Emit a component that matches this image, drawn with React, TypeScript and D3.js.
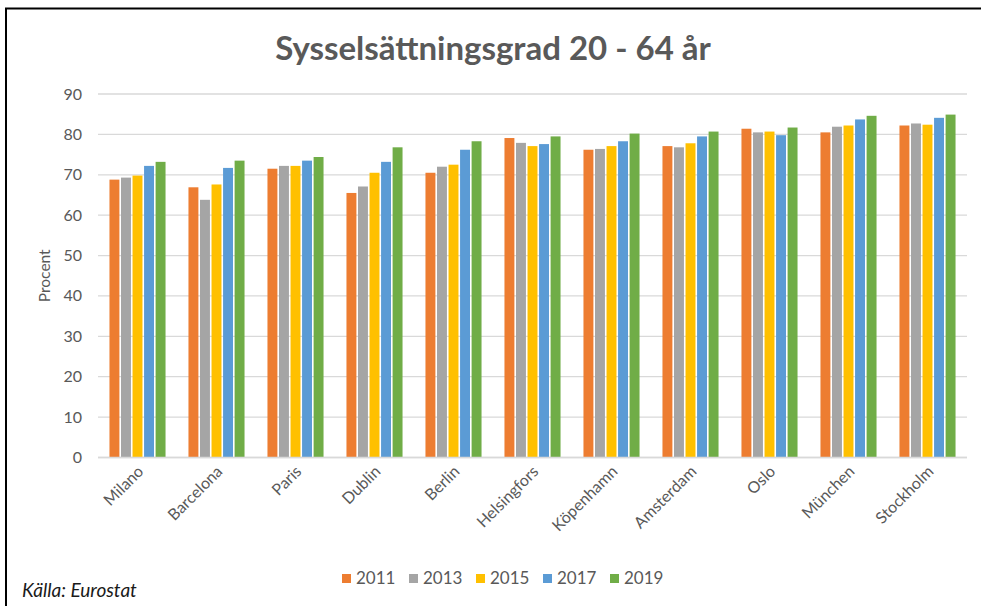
import { useEffect, useRef } from "react";
import * as d3 from "d3";

// Sysselsättningsgrad 20-64 år per stad, Eurostat
const cities = [
  "Milano", "Barcelona", "Paris", "Dublin", "Berlin", "Helsingfors",
  "Köpenhamn", "Amsterdam", "Oslo", "München", "Stockholm",
];
const years = ["2011", "2013", "2015", "2017", "2019"];
const colors = ["#ED7D31", "#A5A5A5", "#FFC000", "#5B9BD5", "#70AD47"];

const v2011 = [68.8, 66.9, 71.5, 65.5, 70.5, 79.1, 76.2, 77.1, 81.4, 80.5, 82.2];
const v2013 = [69.3, 63.8, 72.2, 67.1, 72.0, 77.9, 76.4, 76.8, 80.5, 81.9, 82.7];
const v2015 = [69.8, 67.6, 72.2, 70.5, 72.5, 77.1, 77.1, 77.8, 80.7, 82.2, 82.4];
const v2017 = [72.2, 71.7, 73.5, 73.2, 76.2, 77.6, 78.3, 79.5, 79.8, 83.7, 84.1];
const v2019 = [73.2, 73.5, 74.4, 76.8, 78.3, 79.5, 80.2, 80.7, 81.7, 84.6, 84.9];
const series = [v2011, v2013, v2015, v2017, v2019];

const yTicks = [0, 10, 20, 30, 40, 50, 60, 70, 80, 90];

const W = 981;
const H = 606;

export default function App() {
  const svgRef = useRef<SVGSVGElement>(null);

  useEffect(() => {
    if (!svgRef.current) return;
    const svg = d3.select(svgRef.current);
    svg.selectAll("*").remove();

    const left = 98, right = 967, top = 94, bottom = 457.5;
    const font = "Lato, 'Open Sans', sans-serif";
    const textCol = "#595959";

    svg.append("rect").attr("width", W).attr("height", H).attr("fill", "#fff");

    // frame
    svg.append("path")
      .attr("d", `M6,${H + 5} V8.5 H${W + 5}`)
      .attr("fill", "none").attr("stroke", "#000").attr("stroke-width", 2);

    svg.append("text")
      .attr("x", 493).attr("y", 60)
      .attr("text-anchor", "middle")
      .attr("font-family", font).attr("font-weight", 700).attr("font-size", 33)
      .attr("fill", textCol)
      .text("Sysselsättningsgrad 20 - 64 år");

    const x0 = d3.scaleBand().domain(cities).range([left, right]).paddingInner(0.27).paddingOuter(0.135);
    const x1 = d3.scaleBand().domain(years).range([0, x0.bandwidth()]);
    const y = d3.scaleLinear().domain([0, 90]).range([bottom, top]);

    // grid
    svg.append("g").selectAll("line").data(yTicks).join("line")
      .attr("x1", left).attr("x2", right)
      .attr("y1", (d) => y(d)).attr("y2", (d) => y(d))
      .attr("stroke", "#D9D9D9").attr("stroke-width", 1.3);

    svg.append("g").selectAll("text").data(yTicks).join("text")
      .attr("x", 82).attr("y", (d) => y(d) + 5.5)
      .attr("text-anchor", "end")
      .attr("font-family", font).attr("font-size", 16).attr("fill", textCol)
      .text((d) => d);

    svg.append("text")
      .attr("transform", `translate(50,${(top + bottom) / 2}) rotate(-90)`)
      .attr("text-anchor", "middle")
      .attr("font-family", font).attr("font-size", 15.5).attr("fill", textCol)
      .text("Procent");

    // bars
    const groups = svg.append("g").selectAll("g").data(series).join("g")
      .attr("fill", (_, i) => colors[i]);
    groups.selectAll("rect")
      .data((vals, i) => vals.map((v, c) => ({ v, c, yr: years[i] })))
      .join("rect")
      .attr("x", (d) => (x0(cities[d.c]) ?? 0) + (x1(d.yr) ?? 0) + 0.8)
      .attr("width", x1.bandwidth() - 1.6)
      .attr("y", (d) => y(d.v))
      .attr("height", (d) => y(0) - y(d.v));

    // baseline
    svg.append("line")
      .attr("x1", left).attr("x2", right).attr("y1", bottom).attr("y2", bottom)
      .attr("stroke", "#D9D9D9").attr("stroke-width", 1.3);

    // category labels
    svg.append("g").selectAll("text").data(cities).join("text")
      .attr("transform", (d) => `translate(${(x0(d) ?? 0) + x0.bandwidth() / 2 + 7},${bottom + 15}) rotate(-45)`)
      .attr("text-anchor", "end")
      .attr("font-family", font).attr("font-size", 16).attr("fill", textCol)
      .text((d) => d);

    // legend
    const lg = svg.append("g").selectAll("g").data(years).join("g")
      .attr("transform", (_, i) => `translate(${342 + i * 67},584)`);
    lg.append("rect").attr("x", 0).attr("y", -10).attr("width", 9).attr("height", 9)
      .attr("fill", (_, i) => colors[i]);
    lg.append("text").attr("x", 14).attr("y", 0)
      .attr("font-family", font).attr("font-size", 17).attr("fill", textCol)
      .text((d) => d);

    svg.append("text")
      .attr("x", 22).attr("y", 597)
      .attr("font-family", font).attr("font-style", "italic").attr("font-size", 19)
      .attr("fill", "#1a1a1a")
      .text("Källa: Eurostat");
  }, []);

  return (
    <svg ref={svgRef} width={W} height={H}
      style={{ position: "absolute", left: 0, top: 0, display: "block" }} />
  );
}
